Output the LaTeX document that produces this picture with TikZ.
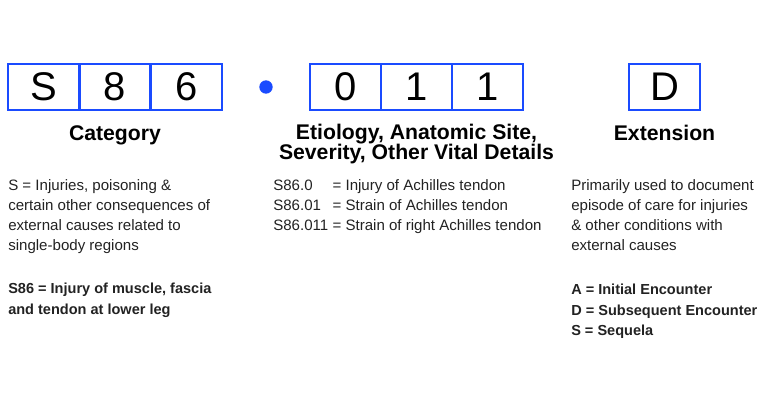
\documentclass[tikz,border=0pt]{standalone}
\usepackage{fontspec}
\setmainfont{Liberation Sans}
\definecolor{codeblue}{HTML}{1A4BFF}
\definecolor{bodytext}{HTML}{222222}
\begin{document}
\begin{tikzpicture}[x=0.75pt,y=-0.75pt,
  digitbox/.style={draw=codeblue,line width=1.6pt,minimum width=53.25pt,minimum height=34.5pt,inner sep=0pt,font=\fontsize{30}{30}\selectfont,text=black},
  heading/.style={font=\bfseries\fontsize{15.9}{15}\selectfont,inner sep=0pt,anchor=base,text=black},
  bodypar/.style={font=\fontsize{11.3}{15}\selectfont,align=left,inner sep=0pt,anchor=north west,text=bodytext},
  boldpar/.style={bodypar,font=\bfseries\fontsize{10.9}{15.3}\selectfont}]
\useasboundingbox (0,0) rectangle (768,403);
% S86 boxes
\node[digitbox] (s1) at (43.5,87) {S};
\node[digitbox] (s2) at (115,87) {8};
\node[digitbox] (s3) at (186.5,87) {6};
% dot
\fill[codeblue] (266,87) circle (5pt) node (dot) {};
% 011 boxes
\node[digitbox] (e1) at (345.5,87) {0};
\node[digitbox] (e2) at (416.5,87) {1};
\node[digitbox] (e3) at (487.5,87) {1};
% D box
\node[digitbox] (x1) at (664.5,87) {D};
% headings
\node[heading] (hcat) at (115,141) {Category};
\node[heading] (hetioa) at (416.5,140) {Etiology, Anatomic Site,};
\node[heading] (hetiob) at (416.5,160) {Severity, Other Vital Details};
\node[heading] (hext) at (664.5,141) {Extension};
% left column
\node[bodypar] (lcol) at (8,179) {S = Injuries, poisoning \&\\certain other consequences of\\external causes related to\\single-body regions};
\node[boldpar] (lbold) at (8,283) {S86 = Injury of muscle, fascia\\and tendon at lower leg};
% middle column
\node[bodypar] (mcol) at (273,179) {\makebox[44.5pt][l]{S86.0}= Injury of Achilles tendon\\\makebox[44.5pt][l]{S86.01}= Strain of Achilles tendon\\\makebox[44.5pt][l]{S86.011}= Strain of right Achilles tendon};
% right column
\node[bodypar] (rcol) at (571,179) {Primarily used to document\\episode of care for injuries\\\& other conditions with\\external causes};
\node[boldpar] (rbold) at (571,284) {A = Initial Encounter\\D = Subsequent Encounter\\S = Sequela};
\end{tikzpicture}
\end{document}
